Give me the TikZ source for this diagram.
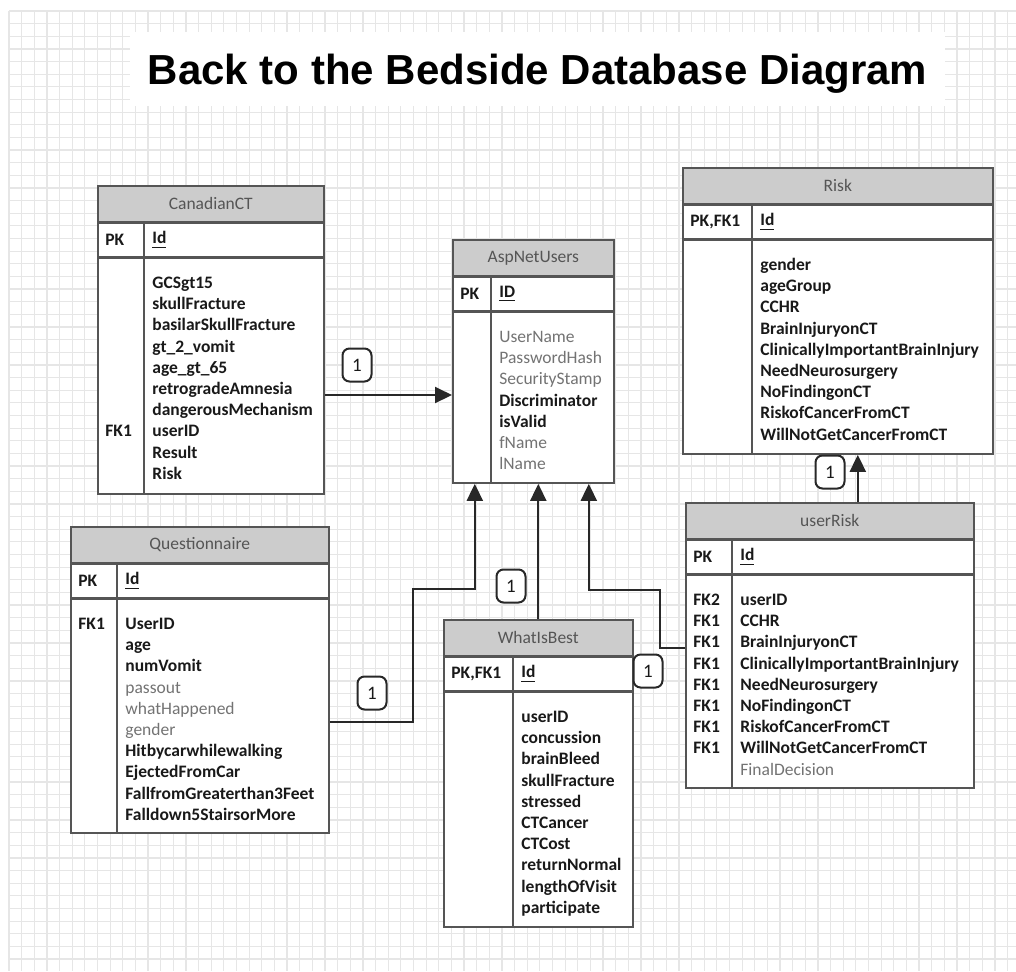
\documentclass[tikz,border=0pt]{standalone}
\usepackage{fontspec}
\setmainfont{Carlito}
\newfontfamily\titlefont{Liberation Sans}
\usetikzlibrary{arrows.meta}
\definecolor{framegray}{RGB}{85,85,85}
\definecolor{headfill}{RGB}{204,204,204}
\definecolor{headtext}{RGB}{85,85,85}
\definecolor{fieldgray}{RGB}{115,115,115}
\definecolor{textdark}{RGB}{25,25,25}
\definecolor{gridgray}{RGB}{230,230,230}
\definecolor{linkgray}{RGB}{40,40,40}
\tikzset{
    tbl-head/.style = {draw=framegray, fill=headfill, line width=0.8pt, rectangle, inner sep=0pt, minimum height=18pt, text=headtext, font=\fontsize{8.75}{10.6}\selectfont},
    tbl-key/.style = {draw=framegray, fill=white, line width=0.8pt, rectangle, inner sep=0pt, minimum height=16.5pt},
    tbl-body/.style = {draw=framegray, fill=white, line width=0.8pt, rectangle, inner sep=0pt},
    tbl-line/.style = {draw=framegray, line width=0.8pt},
    tbl-text/.style = {inner sep=0pt, text=textdark, font=\fontsize{8.75}{10.6}\selectfont\bfseries},
    link/.style = {draw=linkgray, line width=1pt, -{Triangle[width=8pt,length=8.5pt]}},
    link-label/.style = {draw=linkgray, line width=1pt, fill=white, rounded corners=3.5pt, minimum width=14.5pt, minimum height=16.5pt, inner sep=0pt, text=textdark, font=\fontsize{9.5}{11}\selectfont},
    grid-line/.style = {draw=gridgray, line width=0.6pt},
    title-box/.style = {fill=white, minimum width=407.5pt, minimum height=37pt, inner sep=0pt, text depth=0pt, font=\titlefont\fontsize{21}{25}\selectfont\bfseries},
}
% a field printed light, not bold
\newcommand{\plainfield}[1]{{\mdseries\color{fieldgray}#1}}
% name, top left, width, key column, title, pk key, pk field, rows, body height
\newcommand{\dbtable}[9]{%
    \node[tbl-head, minimum width=#3, anchor=north west] (#1-head) at #2 {#5};
    \node[tbl-key, minimum width=#3, anchor=north west] (#1-key) at (#1-head.south west) {};
    \node[tbl-body, minimum width=#3, minimum height=#9, anchor=north west] (#1-body) at (#1-key.south west) {};
    \draw[tbl-line] ([xshift=#4]#1-key.north west) -- ([xshift=#4]#1-body.south west);
    \node[tbl-text, anchor=west] (#1-pk) at ([xshift=4pt]#1-key.west) {#6};
    \node[tbl-text, anchor=west] (#1-id) at ([xshift=#4+4pt]#1-key.west) {\underline{#7}};
    \node[tbl-text, anchor=north west] (#1-rows) at ([yshift=-8pt]#1-body.north west)
        {\begin{tabular}{@{\hspace{4pt}}p{\dimexpr#4-8pt\relax}@{\hspace{8pt}}l@{}}#8\end{tabular}};
}

\begin{document}
\begin{tikzpicture}[x=0.5pt, y=-0.5pt]
\useasboundingbox (0,0) rectangle (1016,971);
\fill[white] (0,0) rectangle (1016,971);
% grid paper
\foreach \i in {0,...,79} \draw[grid-line] ({9+12.64*\i},11) -- ({9+12.64*\i},971);
\foreach \j in {0,...,75} \draw[grid-line] (9,{11+12.64*\j}) -- (1016,{11+12.64*\j});

\node[title-box] (title) at (537.5,69) {Back to the Bedside Database Diagram};

% tables
\dbtable{canct}{(97,185)}{113pt}{23.5pt}{CanadianCT}{PK}{Id}{%
    & GCSgt15\\ & skullFracture\\ & basilarSkullFracture\\ & gt\_2\_vomit\\ & age\_gt\_65\\
    & retrogradeAmnesia\\ & dangerousMechanism\\ FK1 & userID\\ & Result\\ & Risk}{118pt}
\dbtable{asp}{(452,239)}{80.5pt}{19.5pt}{AspNetUsers}{PK}{ID}{%
    & \plainfield{UserName}\\ & \plainfield{PasswordHash}\\ & \plainfield{SecurityStamp}\\
    & Discriminator\\ & isValid\\ & \plainfield{fName}\\ & \plainfield{lName}}{85.5pt}
\dbtable{risk}{(682,167)}{155pt}{35pt}{Risk}{PK,FK1}{Id}{%
    & gender\\ & ageGroup\\ & CCHR\\ & BrainInjuryonCT\\ & ClinicallyImportantBrainInjury\\
    & NeedNeurosurgery\\ & NoFindingonCT\\ & RiskofCancerFromCT\\ & WillNotGetCancerFromCT}{107pt}
\dbtable{quest}{(70,526)}{129pt}{23.5pt}{Questionnaire}{PK}{Id}{%
    FK1 & UserID\\ & age\\ & numVomit\\ & \plainfield{passout}\\ & \plainfield{whatHappened}\\
    & \plainfield{gender}\\ & Hitbycarwhilewalking\\ & EjectedFromCar\\ & FallfromGreaterthan3Feet\\
    & Falldown5StairsorMore}{117pt}
\dbtable{wib}{(443,619)}{94.5pt}{35pt}{WhatIsBest}{PK,FK1}{Id}{%
    & userID\\ & concussion\\ & brainBleed\\ & skullFracture\\ & stressed\\ & CTCancer\\
    & CTCost\\ & returnNormal\\ & lengthOfVisit\\ & participate}{117.5pt}
\dbtable{urisk}{(685,502)}{144pt}{23.5pt}{userRisk}{PK}{Id}{%
    FK2 & userID\\ FK1 & CCHR\\ FK1 & BrainInjuryonCT\\ FK1 & ClinicallyImportantBrainInjury\\
    FK1 & NeedNeurosurgery\\ FK1 & NoFindingonCT\\ FK1 & RiskofCancerFromCT\\
    FK1 & WillNotGetCancerFromCT\\ & \plainfield{FinalDecision}}{106.5pt}

% relations
\draw[link] ([yshift=-9.5pt]canct-body.east) -- ([yshift=-9.5pt]canct-body.east -| asp-body.west);
\draw[link] ([yshift=-3pt]quest-body.east) -- ++(83,0) -- ++(0,-133) -| ([xshift=-29.25pt]asp-body.south);
\draw[link] (wib-head.north) -- (wib-head.north |- asp-body.south);
\draw[link] ([yshift=16.75pt]urisk-body.west) -- ++(-25,0) -- ++(0,-58) -| ([xshift=27.75pt]asp-body.south);
\draw[link] ([xshift=14pt]urisk-head.north) -- ([xshift=14pt]urisk-head.north |- risk-body.south);

\node[link-label] (card-canct) at (357,365) {1};
\node[link-label] (card-quest) at (372,693) {1};
\node[link-label] (card-wib) at (511,586) {1};
\node[link-label] (card-urisk) at (648,671) {1};
\node[link-label] (card-risk) at (830,472) {1};
\end{tikzpicture}
\end{document}
